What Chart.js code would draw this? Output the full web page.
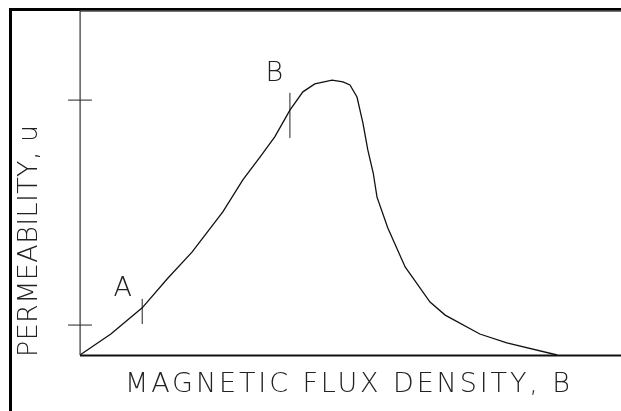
<!DOCTYPE html>
<html>
<head>
<meta charset="utf-8">
<script src="https://cdn.jsdelivr.net/npm/chart.js@4.4.1/dist/chart.umd.min.js"></script>
<style>
  html, body { margin: 0; padding: 0; background: #fff; }
  canvas { display: block; }
</style>
</head>
<body>
<canvas id="chart" width="621" height="411"></canvas>
<script>
// curve (arbitrary units, x 0-100, y 0-100)
const fluxB = [0, 5.7, 11.5, 16.1, 20.7, 26.4, 30.1, 33.3, 36.0, 38.8, 41.2, 43.4, 46.6, 48.6, 49.9,
               51.2, 52.3, 53.2, 54.2, 54.9, 56.9, 60.1, 64.7, 67.5, 73.9, 78.9, 88.2];
const permU = [0, 6.1, 13.7, 22.1, 29.9, 41.6, 50.9, 57.6, 63.4, 71.2, 76.5, 78.8, 79.9, 79.4, 78.5,
               75.0, 67.4, 59.6, 52.9, 45.9, 36.9, 25.6, 15.4, 11.6, 6.1, 3.5, 0];

// tick marks on the y axis and on the curve
const yTicks = [74.1, 8.7];
const markA = { x: 11.5, y0: 9.0, y1: 16.3, label: 'A', lx: 7.9, ly: 17.2 };
const markB = { x: 38.8, y0: 63.1, y1: 76.2, label: 'B', lx: 35.9, ly: 79.7 };
const xTitle = 'MAGNETIC FLUX DENSITY, B';
const yTitle = 'PERMEABILITY, u';

const FONT = '200 27px "DejaVu Sans", sans-serif';

const curve = fluxB.map((x, i) => ({ x: x, y: permU[i] }));

const segStyle = { type: 'line', borderColor: '#222', borderWidth: 1, pointRadius: 0, clip: false, showLine: true };
const tickSets = yTicks.map(v => Object.assign({
  data: [{ x: -2.2, y: v }, { x: 2.2, y: v }]
}, segStyle));
const markSets = [markA, markB].map(m => Object.assign({
  data: [{ x: m.x, y: m.y0 }, { x: m.x, y: m.y1 }]
}, segStyle));

function spacedText(ctx, text, cx, y, width) {
  ctx.letterSpacing = '0px';
  const w = ctx.measureText(text).width;
  const sp = (width - w) / (text.length - 1);
  ctx.letterSpacing = sp + 'px';
  ctx.textAlign = 'left';
  ctx.fillText(text, cx - width / 2, y);
  ctx.letterSpacing = '0px';
}

const framePlugin = {
  id: 'frame',
  afterDatasetsDraw(chart) {
    const ctx = chart.ctx;
    const a = chart.chartArea;
    const xs = chart.scales.x, ys = chart.scales.y;
    ctx.save();
    // outer frame
    ctx.fillStyle = '#000';
    ctx.fillRect(9, 8, 3, 411 - 8);
    ctx.fillRect(9, 8, 621 - 9, 3);
    // axes
    ctx.fillStyle = '#777';
    ctx.fillRect(a.left, a.top - 0.5, a.right - a.left, 1.5);
    ctx.fillStyle = '#333';
    ctx.fillRect(a.left - 0.5, a.top, 1.2, a.bottom - a.top);
    ctx.fillStyle = '#111';
    ctx.fillRect(a.left, a.bottom - 0.5, a.right - a.left, 2);

    ctx.fillStyle = '#222';
    ctx.font = FONT;
    ctx.textBaseline = 'alphabetic';
    // point labels
    [markA, markB].forEach(m => {
      ctx.textAlign = 'center';
      ctx.fillText(m.label, xs.getPixelForValue(m.lx), ys.getPixelForValue(m.ly));
    });
    // axis titles
    spacedText(ctx, xTitle, 347.5, 392, 445);
    ctx.translate(37, 241);
    ctx.rotate(-Math.PI / 2);
    spacedText(ctx, yTitle, 0, 0, 232);
    ctx.restore();
  }
};

new Chart(document.getElementById('chart'), {
  type: 'scatter',
  data: {
    datasets: [Object.assign({ data: curve }, segStyle, { borderColor: '#111', borderWidth: 1.3 })]
      .concat(tickSets, markSets)
  },
  options: {
    responsive: false,
    animation: false,
    layout: { padding: { left: 80, top: 11, right: 0, bottom: 56 } },
    plugins: { legend: { display: false }, tooltip: { enabled: false } },
    elements: { line: { tension: 0 } },
    scales: {
      x: { type: 'linear', min: 0, max: 100, display: false },
      y: { type: 'linear', min: 0, max: 100, display: false }
    }
  },
  plugins: [framePlugin]
});
</script>
</body>
</html>
